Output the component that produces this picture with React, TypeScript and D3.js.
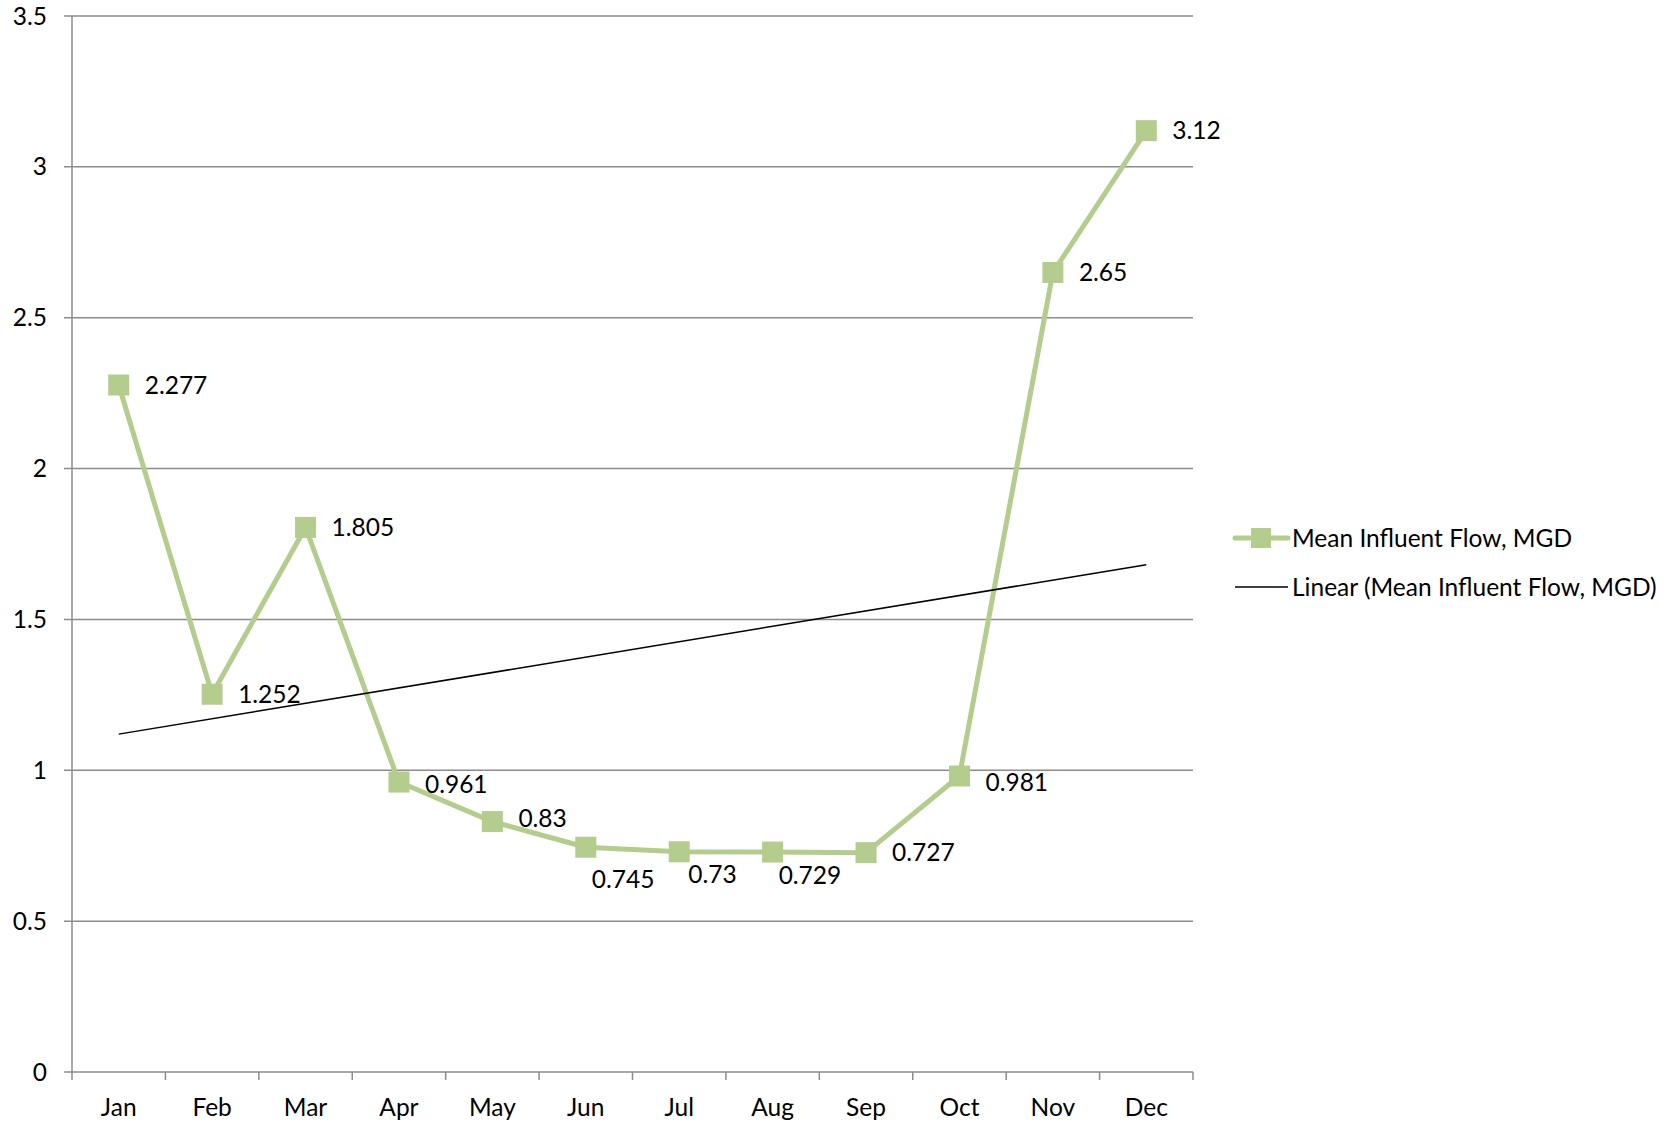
import React from "react";
import * as d3 from "d3";

const months = ["Jan", "Feb", "Mar", "Apr", "May", "Jun", "Jul", "Aug", "Sep", "Oct", "Nov", "Dec"];
const flow = [2.277, 1.252, 1.805, 0.961, 0.83, 0.745, 0.73, 0.729, 0.727, 0.981, 2.65, 3.12];
const labels = ["2.277", "1.252", "1.805", "0.961", "0.83", "0.745", "0.73", "0.729", "0.727", "0.981", "2.65", "3.12"];
const yTicks = [0, 0.5, 1, 1.5, 2, 2.5, 3, 3.5];
const yTickLabels = ["0", "0.5", "1", "1.5", "2", "2.5", "3", "3.5"];
const seriesName = "Mean Influent Flow, MGD";
const trendName = "Linear (Mean Influent Flow, MGD)";

// label placement nudges (px) relative to default right-of-point
const labelNudge: [number, number][] = [
  [0, 0], [0, 0], [0, 0], [0, 2], [0, -3], [-20, 32], [-17, 23], [-20, 23], [0, 0], [0, 6], [0, 0], [0, 0],
];

const W = 1673, H = 1123;
const left = 72, right = 1193, top = 16, bottom = 1072;
const GREEN = "#b4cc8e";
const GRID = "#8c8c8c";
const FONT = "Lato, sans-serif";
const FS = 24.5;

export default function App() {
  const x = d3.scaleBand<string>().domain(months).range([left, right]);
  const y = d3.scaleLinear().domain([0, 3.5]).range([bottom, top]);
  const cx = (i: number) => (x(months[i]) as number) + x.bandwidth() / 2;

  const line = d3.line<number>().x((_, i) => cx(i)).y((d) => y(d));

  // linear regression
  const n = flow.length;
  const xs = flow.map((_, i) => i + 1);
  const mx = d3.mean(xs) as number;
  const my = d3.mean(flow) as number;
  const sxy = d3.sum(xs.map((xi, i) => (xi - mx) * (flow[i] - my)));
  const sxx = d3.sum(xs.map((xi) => (xi - mx) ** 2));
  const slope = sxy / sxx;
  const icpt = my - slope * mx;
  const t0 = icpt + slope * 1;
  const t1 = icpt + slope * n;

  const ticksX = d3.range(months.length + 1).map((i) => left + i * x.step());

  return (
    <svg width={W} height={H} style={{ position: "absolute", left: 0, top: 0, background: "#fff" }} fontFamily={FONT}>
      <rect x={0} y={0} width={W} height={H} fill="#fff" />
      {yTicks.map((t, i) => (
        <g key={t}>
          <line x1={left - 8} x2={right} y1={y(t)} y2={y(t)} stroke={GRID} strokeWidth={1.5} />
          <text x={47} y={y(t)} dy="0.35em" textAnchor="end" fontSize={FS} fill="#000">
            {yTickLabels[i]}
          </text>
        </g>
      ))}
      <line x1={left} x2={left} y1={top} y2={bottom} stroke={GRID} strokeWidth={1.5} />
      {ticksX.map((tx, i) => (
        <line key={i} x1={tx} x2={tx} y1={bottom} y2={bottom + 8} stroke={GRID} strokeWidth={1.5} />
      ))}
      {months.map((m, i) => (
        <text key={m} x={cx(i)} y={bottom + 35} dy="0.35em" textAnchor="middle" fontSize={FS} fill="#000">
          {m}
        </text>
      ))}
      <path d={line(flow) as string} fill="none" stroke={GREEN} strokeWidth={5} strokeLinejoin="round" />
      {flow.map((v, i) => (
        <rect key={i} x={cx(i) - 10.5} y={y(v) - 10.5} width={21} height={21} fill={GREEN} />
      ))}
      <line x1={cx(0)} y1={y(t0)} x2={cx(n - 1)} y2={y(t1)} stroke="#000" strokeWidth={1.5} />
      {flow.map((v, i) => (
        <text
          key={i}
          x={cx(i) + 26 + labelNudge[i][0]}
          y={y(v) + labelNudge[i][1]}
          dy="0.35em"
          fontSize={FS}
          fill="#000"
        >
          {labels[i]}
        </text>
      ))}
      <g>
        <line x1={1235} x2={1288} y1={538} y2={538} stroke={GREEN} strokeWidth={5} strokeLinecap="round" />
        <rect x={1251} y={528} width={20} height={20} fill={GREEN} />
        <text x={1292} y={538} dy="0.35em" fontSize={FS} fill="#000">{seriesName}</text>
        <line x1={1235} x2={1288} y1={587} y2={587} stroke="#000" strokeWidth={1.5} />
        <text x={1292} y={587} dy="0.35em" fontSize={FS} fill="#000">{trendName}</text>
      </g>
    </svg>
  );
}
